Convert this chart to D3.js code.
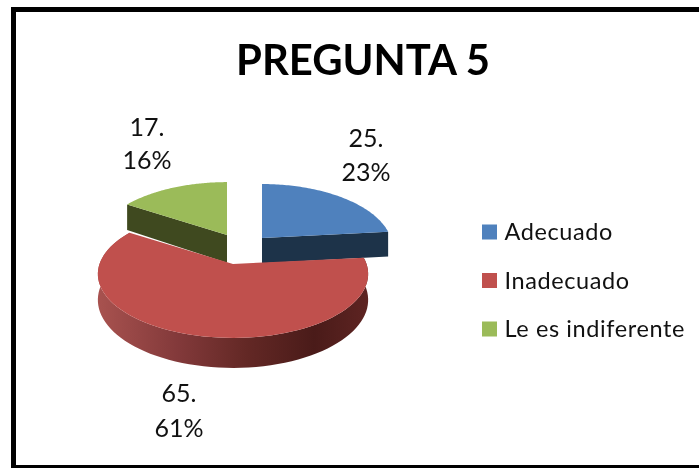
<!DOCTYPE html>
<html><head><meta charset="utf-8">
<script src="https://cdn.jsdelivr.net/npm/d3@7/dist/d3.min.js"></script>
<style>html,body{margin:0;padding:0;background:#fff}svg{display:block;filter:blur(0.35px)}text{font-family:Lato,"Open Sans",sans-serif;fill:#111}</style>
</head><body><svg id="c" width="699" height="468"></svg>
<script>
const categories = ["Adecuado","Inadecuado","Le es indiferente"];
const values = [25,65,17];
const percents = ["23%","61%","16%"];
const topColors = ["#4f81bd","#c0504d","#9bbb59"];
const cutColors = ["#1d3349","#4a1b19","#3f491f"];
const title = "PREGUNTA 5";

const svg = d3.select("#c");
svg.append("rect").attr("x",13.5).attr("y",9.5).attr("width",720).attr("height",458)
  .attr("fill","#fff").attr("stroke","#000").attr("stroke-width",5);
svg.append("text").attr("x",363).attr("y",75).attr("text-anchor","middle")
  .attr("font-size",41.8).attr("font-weight",700).style("fill","#000").text(title);

// perspective projection of a unit disc
const rx=133.5, ry=62.4, k=0.156, depth=25.3;
// apex x, apex y, x scale, y scale, depth scale
const apexes = [[262,238,0.965,1,1],[233,264,1,1,1],[227,235,0.965,0.98,1.1]];
function proj(a,th,down){
  const u=Math.sin(th), v=-Math.cos(th), w=1-k*v;
  return [a[0]+a[2]*rx*u/w, a[1]+a[3]*ry*v/w+(down?a[4]*depth/w:0)];
}
const arcs = d3.pie().sort(null).value(d=>d)(values);
const line = d3.line();
const defs = svg.append("defs");
const g = defs.append("linearGradient").attr("id","wall").attr("x1",0).attr("x2",1).attr("y1",0).attr("y2",0);
[[0,"#a8524f"],[0.3,"#82393a"],[0.55,"#632825"],[0.8,"#4a1b19"],[1,"#5e2422"]]
  .forEach(s=>g.append("stop").attr("offset",s[0]).attr("stop-color",s[1]));

function sweep(a,s,e,down){
  const n=80;
  return d3.range(n+1).map(i=>proj(a,s+(e-s)*i/n,down));
}
const apexDown = a => [a[0],a[1]+a[4]*depth];

// order: green and blue behind, then red
[2,0,1].forEach(i=>{
  const d=arcs[i], a=apexes[i], ap=[a[0],a[1]];
  if(i===1){
    const top=sweep(a,d.startAngle,d.endAngle,false), bot=sweep(a,d.startAngle,d.endAngle,true).reverse();
    svg.append("path").attr("d",line(top.concat(bot))+"Z").attr("fill","url(#wall)");
  } else {
    const th=i===0?d.endAngle:d.startAngle;
    svg.append("path").attr("d",line([ap,proj(a,th,false),proj(a,th,true),apexDown(a)])+"Z").attr("fill",cutColors[i]);
  }
  svg.append("path").attr("d",line([ap].concat(sweep(a,d.startAngle,d.endAngle,false)))+"Z")
    .attr("fill",topColors[i]);
});

// data labels
const labelPos=[[366,147,181],[179,402,437],[147,136,169]];
categories.forEach((c,i)=>{
  const p=labelPos[i];
  [values[i]+".",percents[i]].forEach((t,j)=>{
    svg.append("text").attr("x",p[0]).attr("y",p[1+j]).attr("text-anchor","middle")
      .attr("font-size",25).text(t);
  });
});

// legend
const ly=d3.scalePoint().domain(categories).range([232,329]);
categories.forEach((c,i)=>{
  svg.append("rect").attr("x",482).attr("y",ly(c)-7.5).attr("width",15).attr("height",15).attr("fill",topColors[i]);
  svg.append("text").attr("x",504.5).attr("y",ly(c)+8).attr("font-size",23.5).style("letter-spacing","0.6px").text(c);
});
</script></body></html>
